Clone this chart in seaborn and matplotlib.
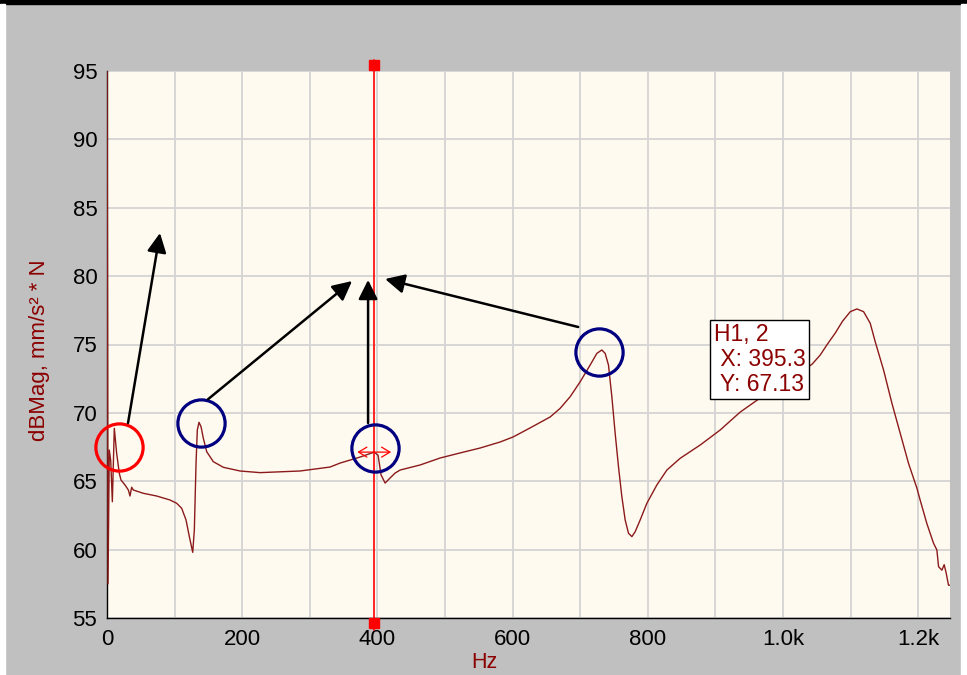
import matplotlib
matplotlib.use('Agg')
import matplotlib.pyplot as plt
import seaborn as sns
from matplotlib.patches import Rectangle
from matplotlib.ticker import MultipleLocator

# frequency response (Hz, dB)
freq = [0, 1.5, 3.4, 5.5, 7.9, 10.8, 14.3, 18.2, 20.7, 26.6, 31.6, 34, 36.5, 38.9,
        53.7, 73.5, 93.2, 103.1, 110.5, 116.9, 121.8, 126.8, 129.2, 131.7, 133.6,
        136.1, 139.1, 142.5, 147.5, 157.3, 172.1, 196.8, 226.4, 285.6, 330, 344.8,
        374.4, 395.3, 401, 405.4, 411.4, 418.8, 426.2, 433.6, 463.2, 492.8, 522.3,
        551.9, 581.5, 600.8, 625.9, 655.5, 670.3, 685.1, 700, 714.7, 724.6, 732,
        736.9, 741.8, 746.8, 751.7, 756.6, 761.6, 766.5, 771.4, 776.4, 781.3,
        788.7, 798.6, 813.4, 828.2, 847.9, 877.5, 895, 907.1, 936.7, 966.3, 978,
        1010.7, 1043.2, 1055, 1066, 1077.3, 1088, 1099.5, 1109.3, 1119.2, 1129,
        1136.4, 1148.7, 1161.1, 1173.4, 1185.7, 1198, 1203, 1212.8, 1222.7,
        1227.6, 1230.1, 1235, 1238.4, 1241.3, 1244.8, 1247]
mag = [100, 57.5, 67.28, 66.5, 63.5, 68.87, 67.04, 65.58, 65.09, 64.73, 64.36, 63.92,
       64.56, 64.36, 64.12, 63.92, 63.63, 63.39, 63.02, 62.17, 60.95, 59.8, 61.44,
       66.31, 68.75, 69.31, 68.99, 68.14, 67.16, 66.43, 66.02, 65.75, 65.63, 65.75,
       66.04, 66.33, 66.77, 67.13, 66.9, 65.46, 64.87, 65.24, 65.6, 65.82, 66.19,
       66.7, 67.07, 67.43, 67.87, 68.24, 68.9, 69.7, 70.33, 71.18, 72.28, 73.5,
       74.35, 74.6, 74.35, 73.5, 71.18, 68.5, 66.07, 63.87, 62.17, 61.2, 60.95,
       61.31, 62.17, 63.39, 64.73, 65.82, 66.68, 67.65, 68.3, 68.75, 70.06, 71.09,
       71.45, 72.4, 73.57, 74.23, 75.05, 75.84, 76.7, 77.4, 77.6, 77.4, 76.55,
       75.2, 73.14, 70.7, 68.5, 66.3, 64.5, 63.6, 61.9, 60.46, 59.97, 58.75, 58.5,
       58.9, 58.3, 57.4, 57.4]

# cursor
cursor_x = 395.3
cursor_y = 67.13

xtick_pos = [0, 200, 400, 600, 800, 1000, 1200]
xtick_labels = ['0', '200', '400', '600', '800', '1.0k', '1.2k']

# circles round the peaks (Hz, dB)
red_circles = [(17.8, 67.5)]
blue_circles = [(139.1, 69.26), (396.6, 67.43), (728.0, 74.45)]

# arrows (tail, tip)
arrows = [((31.1, 69.26), (78.4, 83.15)),
          ((149.5, 71.0), (362.5, 79.64)),
          ((386.2, 69.26), (386.2, 79.72)),
          ((697.0, 76.28), (411.4, 79.79))]

sns.set_style('white')
plt.rcParams['font.family'] = ['Liberation Sans', 'DejaVu Sans']

dark_red = '#8b0000'

fig = plt.figure(figsize=(9.67, 6.75), dpi=100, facecolor='#c0c0c0')
ax = fig.add_axes([107 / 967, 1 - 618 / 675, 843 / 967, 547 / 675])
ax.set_facecolor('#fffaf0')

# borders of the window
fig.patches.append(Rectangle((0, 1 - 4 / 675), 1, 4 / 675, transform=fig.transFigure,
                             color='black', zorder=0))
fig.patches.append(Rectangle((0, 0), 5 / 967, 1 - 4 / 675, transform=fig.transFigure,
                             color='white', zorder=0))
fig.patches.append(Rectangle((1 - 6 / 967, 0), 6 / 967, 1 - 4 / 675, transform=fig.transFigure,
                             color='white', zorder=0))

sns.lineplot(x=freq, y=mag, ax=ax, color='#8b1a1a', lw=1, sort=False, estimator=None, zorder=3)

ax.set_xlim(0, 1247)
ax.set_ylim(55, 95)

ax.set_xticks(xtick_pos, xtick_labels)
ax.xaxis.set_minor_locator(MultipleLocator(100))
ax.yaxis.set_major_locator(MultipleLocator(5))
ax.yaxis.set_minor_locator(MultipleLocator(2.5))

ax.grid(axis='x', which='both', color='#d4d4d4', lw=1.3)
ax.grid(axis='y', which='major', color='#d4d4d4', lw=1.3)
ax.set_axisbelow(True)

for s in ['top', 'right']:
    ax.spines[s].set_visible(False)
for s in ['left', 'bottom']:
    ax.spines[s].set_color('black')
    ax.spines[s].set_linewidth(1)

ax.tick_params(axis='y', which='both', direction='in', length=4, width=1, pad=7,
               labelsize=16, colors='black')
ax.tick_params(axis='x', which='both', direction='out', length=4, width=1, pad=4,
               labelsize=16, colors='black')

ax.set_xlabel('Hz', color=dark_red, fontsize=15.5)
ax.xaxis.set_label_coords(0.448, -0.062)
ax.set_ylabel('dBMag, mm/s² * N', color=dark_red, fontsize=16)
ax.yaxis.set_label_coords(-0.068, 0.49)

# cursor line with its handles
ax.axvline(cursor_x, ymin=-0.022, ymax=1.02, color='red', lw=1.2, clip_on=False, zorder=4)
ax.plot([cursor_x, cursor_x], [1.011, -0.009], 's', color='red', ms=6.5,
        transform=ax.get_xaxis_transform(), clip_on=False, zorder=5)
ax.annotate('', xy=(cursor_x + 25, cursor_y), xytext=(cursor_x - 25, cursor_y),
            arrowprops=dict(arrowstyle='<->,head_length=0.5,head_width=0.3', color='red',
                            lw=0.9, shrinkA=0, shrinkB=0, mutation_scale=12), zorder=5)

# markers round peaks
for cx, cy in red_circles:
    ax.plot(cx, cy, 'o', ms=34, mfc='none', mec='#ff0000', mew=2.3, zorder=6, clip_on=False)
for cx, cy in blue_circles:
    ax.plot(cx, cy, 'o', ms=34, mfc='none', mec='#000080', mew=2.3, zorder=6, clip_on=False)

for tail, tip in arrows:
    ax.annotate('', xy=tip, xytext=tail,
                arrowprops=dict(arrowstyle='-|>,head_length=0.9,head_width=0.45',
                                color='black', lw=1.8, shrinkA=0, shrinkB=0,
                                mutation_scale=13), zorder=6)

# cursor readout
ax.text(0.7195, 0.539, f'H1, 2\n X: {cursor_x}\n Y: {cursor_y}', transform=ax.transAxes,
        ha='left', va='top', fontsize=16.5, color=dark_red, linespacing=1.1, zorder=7,
        bbox=dict(facecolor='white', edgecolor='black', boxstyle='square,pad=0.15', lw=1))

fig.savefig('out.png', dpi=100, facecolor=fig.get_facecolor())
